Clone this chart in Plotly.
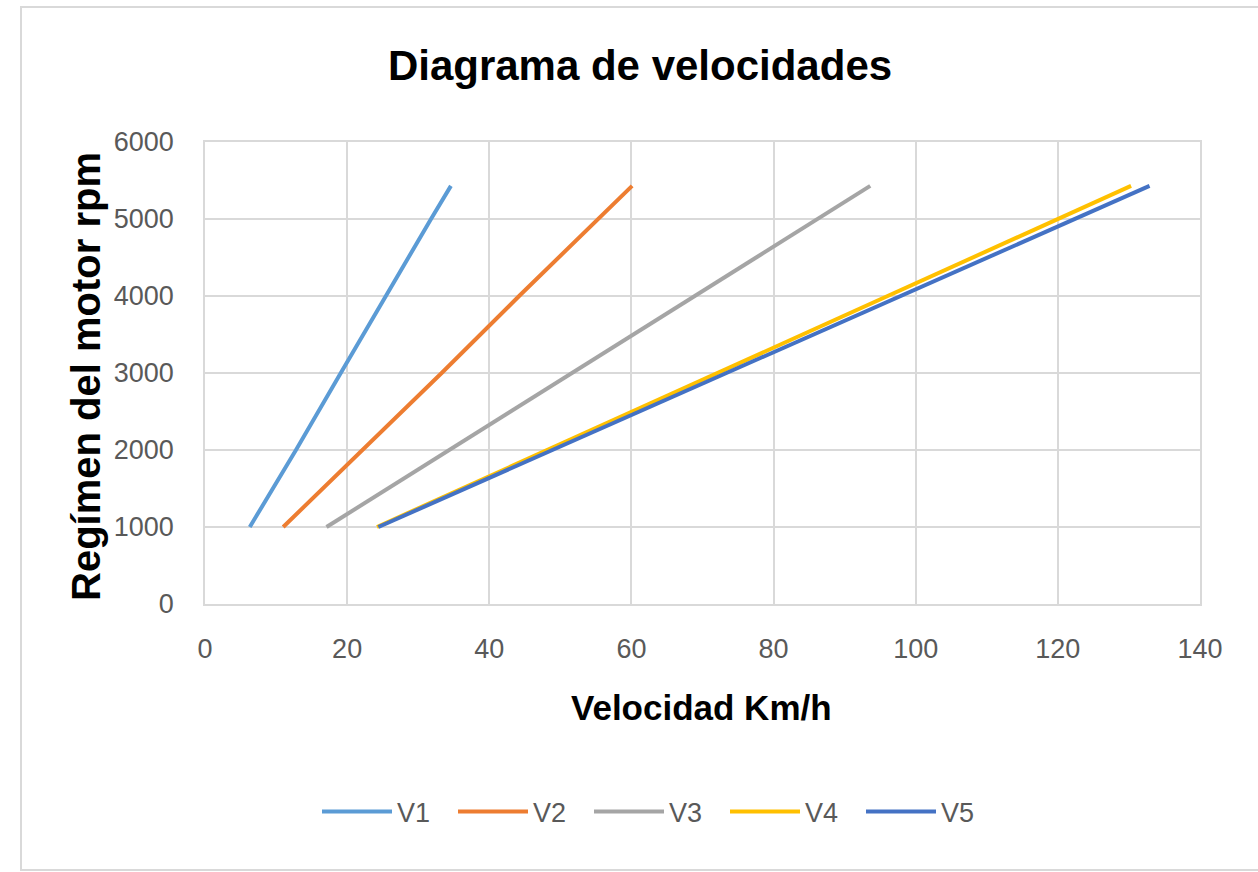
import plotly.graph_objects as go

# Data
rpm = [1000, 2000, 3000, 4000, 5000, 5430]
v1 = [6.3, 12.8, 19.1, 25.4, 31.8, 34.6]
v2 = [11.0, 22.2, 33.3, 44.2, 55.2, 60.1]
v3 = [17.1, 34.4, 51.6, 68.9, 86.2, 93.6]
v4 = [24.2, 48.2, 72.1, 96.1, 120.0, 130.3]
v5 = [24.4, 48.9, 73.4, 97.9, 122.4, 132.9]
series_names = ["V1", "V2", "V3", "V4", "V5"]
series_colors = ["#5B9BD5", "#ED7D31", "#A5A5A5", "#FFC000", "#4472C4"]
x_ticks = [0, 20, 40, 60, 80, 100, 120, 140]
y_ticks = [0, 1000, 2000, 3000, 4000, 5000, 6000]

FONT = "Liberation Sans, Arial, sans-serif"
GRID = "#d9d9d9"
TICK = "#595959"

fig = go.Figure()
for name, vals, col in zip(series_names, [v1, v2, v3, v4, v5], series_colors):
    fig.add_trace(go.Scatter(x=vals, y=rpm, mode="lines", name=name,
                             line=dict(color=col, width=4)))

W, H = 1258, 872
L, R, T, B = 205, 1200, 142, 604

def px(xp):
    return (xp - L) / (R - L)

def py(yp):
    return (B - yp) / (B - T)

fig.update_layout(
    width=W, height=H,
    margin=dict(l=L, r=W - R, t=T, b=H - B, pad=0),
    paper_bgcolor="white", plot_bgcolor="white",
    title=dict(text="<b>Diagrama de velocidades</b>", x=640 / W, xanchor="center",
               y=1 - 65 / H, yanchor="middle", yref="container", xref="container",
               font=dict(family=FONT, size=42, color="black")),
    xaxis=dict(range=[0, 140], tickvals=x_ticks, showgrid=True, gridcolor=GRID, gridwidth=1.5,
               showline=True, linecolor=GRID, linewidth=1.5, mirror=True, zeroline=False,
               ticks="", ticklabelstandoff=20,
               tickfont=dict(family=FONT, size=27, color=TICK)),
    yaxis=dict(range=[0, 6000], tickvals=y_ticks, showgrid=True, gridcolor=GRID, gridwidth=1.5,
               showline=True, linecolor=GRID, linewidth=1.5, mirror=True, zeroline=False,
               ticks="", ticklabelstandoff=24,
               tickfont=dict(family=FONT, size=27, color=TICK)),
    showlegend=True,
    legend=dict(orientation="h", x=px(657), xanchor="center", y=py(812), yanchor="middle",
                font=dict(family=FONT, size=27, color=TICK),
                itemwidth=70, entrywidth=51, entrywidthmode="pixels",
                bgcolor="rgba(0,0,0,0)", tracegroupgap=0),
    annotations=[
        dict(text="<b>Velocidad Km/h</b>", x=px(701), y=py(707), xref="paper", yref="paper",
             xanchor="center", yanchor="middle", showarrow=False,
             font=dict(family=FONT, size=35, color="black")),
        dict(text="<b>Regímen del motor rpm</b>", x=px(86), y=py(377), xref="paper", yref="paper",
             xanchor="center", yanchor="middle", showarrow=False, textangle=-90,
             font=dict(family=FONT, size=40, color="black")),
    ],
    shapes=[
        dict(type="rect", xref="paper", yref="paper", x0=px(21), x1=px(1270), y0=py(870), y1=py(7),
             line=dict(color="#d9d9d9", width=2), fillcolor="rgba(0,0,0,0)", layer="below"),
    ],
)

fig.write_html("out.html")
